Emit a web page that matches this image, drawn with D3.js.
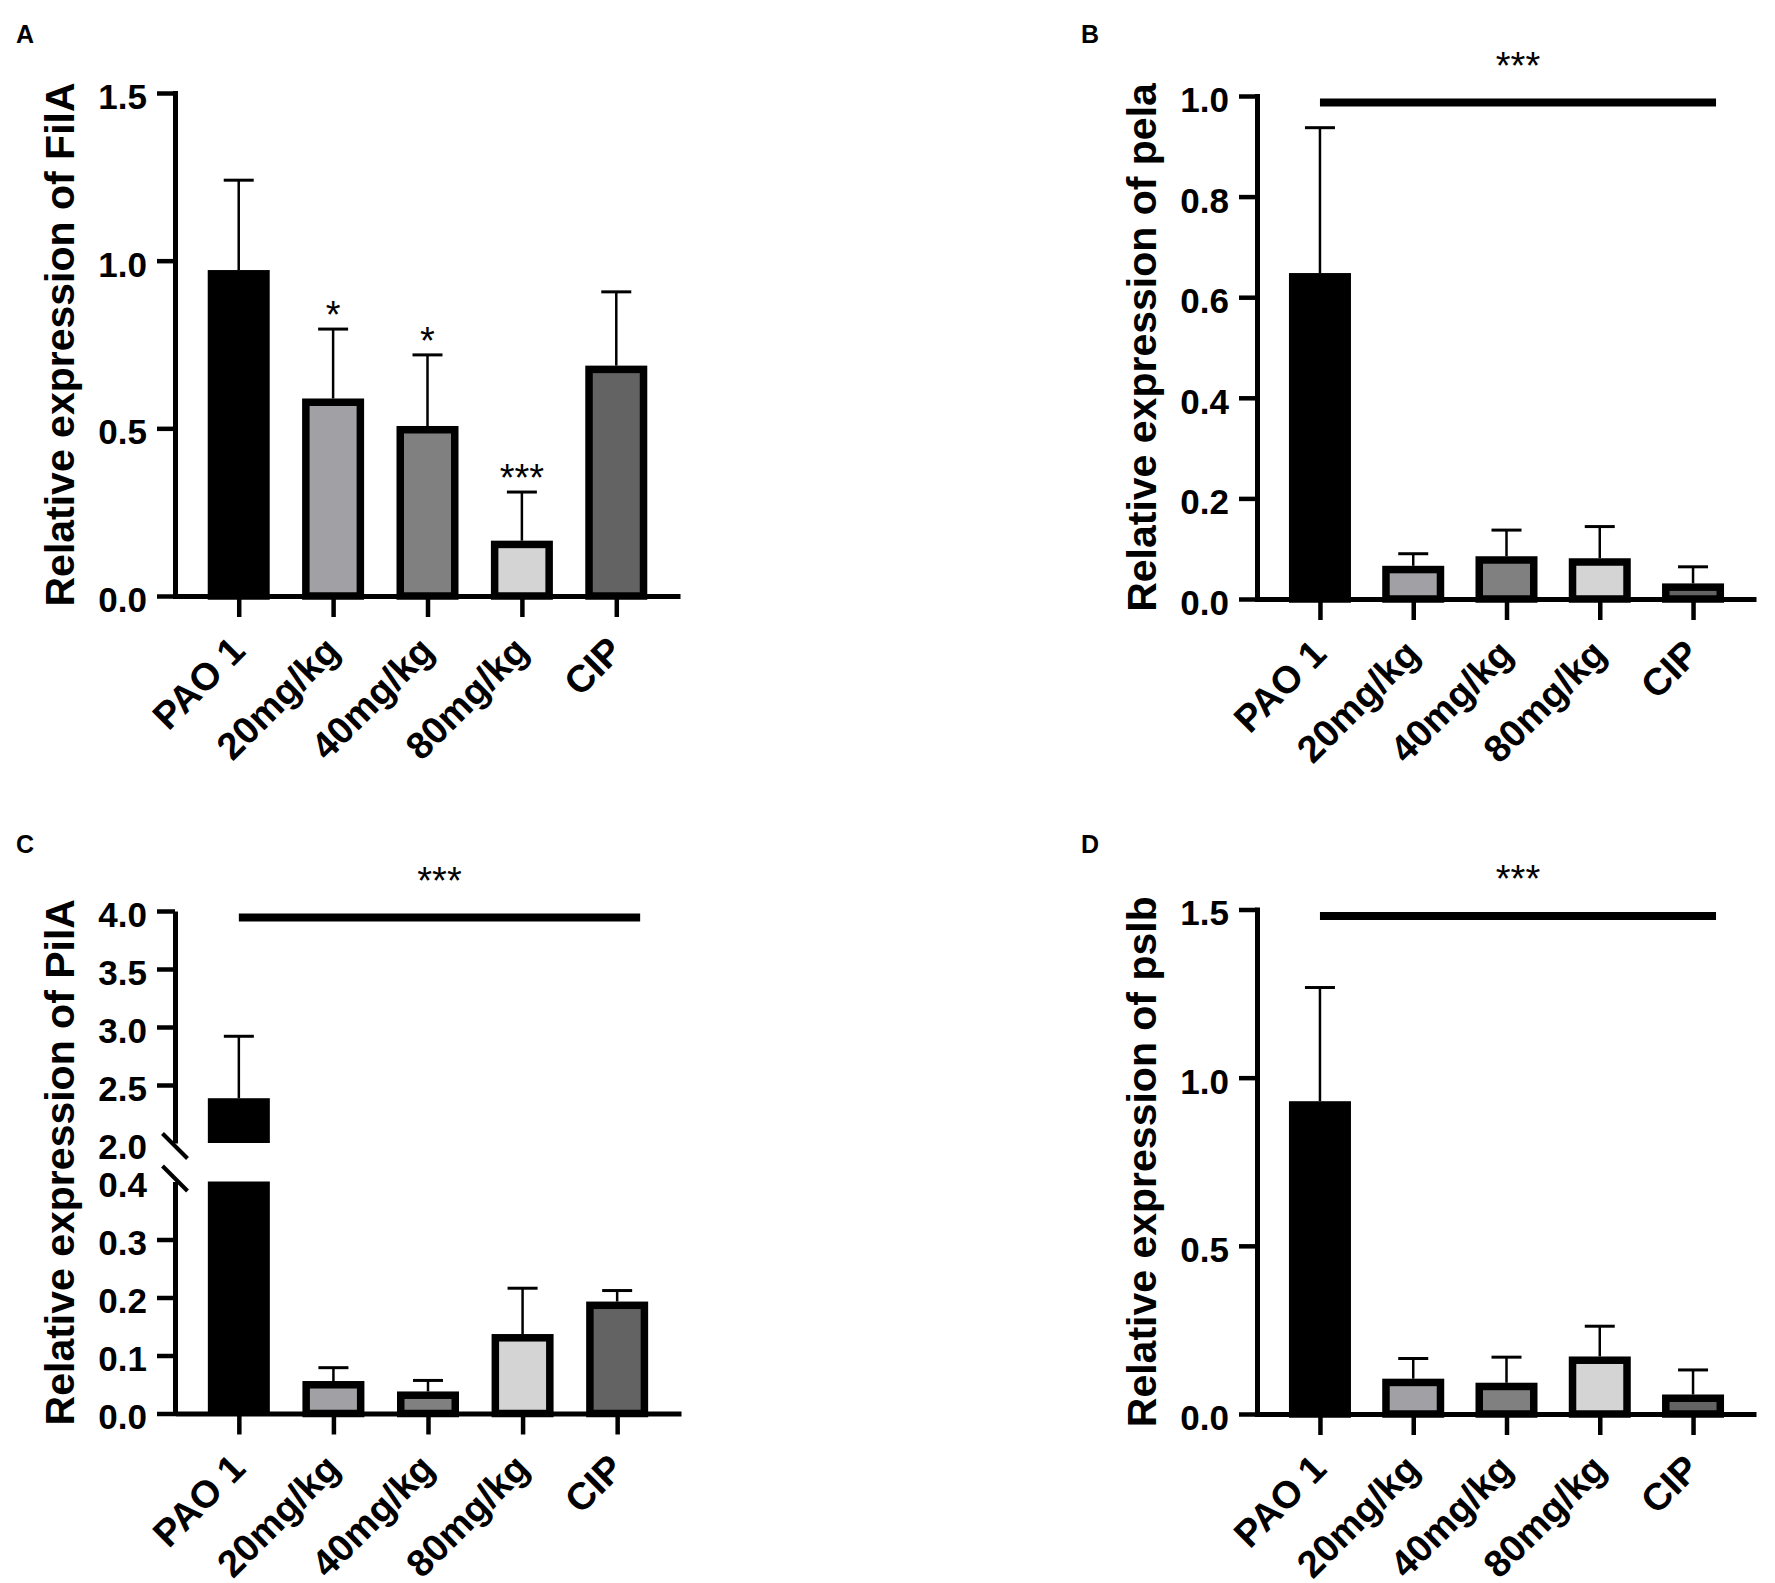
<!DOCTYPE html>
<html>
<head>
<meta charset="utf-8">
<script src="https://cdnjs.cloudflare.com/ajax/libs/d3/7.8.5/d3.min.js"></script>
<style>
  body { margin: 0; background: #fff; }
  text { font-family: "Liberation Sans", Arial, sans-serif; }
</style>
</head>
<body>
<script>
// ---- data ----
var groups = ["PAO 1", "20mg/kg", "40mg/kg", "80mg/kg", "CIP"];
var barFills = ["#000000", "#a1a1a5", "#808080", "#d4d4d4", "#636363"];

// A: FilA
var filaMean = [0.972, 0.589, 0.507, 0.165, 0.687];
var filaSd = [0.268, 0.207, 0.212, 0.145, 0.220];
var filaStars = ["", "*", "*", "***", ""];
var filaTicks = [0, 0.5, 1.0, 1.5];

// B: pela
var pelaMean = [0.648, 0.066, 0.085, 0.081, 0.031];
var pelaSd = [0.289, 0.024, 0.052, 0.063, 0.033];
var pelaTicks = [0, 0.2, 0.4, 0.6, 0.8, 1.0];

// C: PilA (broken axis)
var pilaMean = [2.386, 0.056, 0.038, 0.137, 0.193];
var pilaSd = [0.534, 0.023, 0.019, 0.079, 0.019];
var pilaLowTicks = [0, 0.1, 0.2, 0.3, 0.4];
var pilaHighTicks = [2.0, 2.5, 3.0, 3.5, 4.0];

// D: pslb
var pslbMean = [0.930, 0.105, 0.093, 0.171, 0.058];
var pslbSd = [0.338, 0.060, 0.076, 0.090, 0.073];
var pslbTicks = [0, 0.5, 1.0, 1.5];

// ---- layout ----
var W = 1775, H = 1583;
var barW = 62, sw = 7.5, capW = 30;
var font = "'Liberation Sans', Arial, sans-serif";

var svg = d3.select("body").append("svg")
    .attr("width", W)
    .attr("height", H)
    .style("background", "#fff");

var panels = [
  {letter: "A", title: "Relative expression of FilA", left: 175, right: 680, top: 93, bottom: 596,
   mean: filaMean, sd: filaSd, ticks: filaTicks, stars: filaStars, sig: false},
  {letter: "B", title: "Relative expression of pela", left: 1257, right: 1756, top: 96, bottom: 599,
   mean: pelaMean, sd: pelaSd, ticks: pelaTicks, sig: true},
  {letter: "C", title: "Relative expression of PilA", left: 175, right: 681, top: 911, bottom: 1413.5,
   mean: pilaMean, sd: pilaSd, lowTicks: pilaLowTicks, highTicks: pilaHighTicks,
   lowTop: 1181.5, highBottom: 1143, sig: true},
  {letter: "D", title: "Relative expression of pslb", left: 1257, right: 1756, top: 909.5, bottom: 1414,
   mean: pslbMean, sd: pslbSd, ticks: pslbTicks, sig: true}
];

function styleYAxis(ax) {
  ax.select(".domain").attr("stroke-width", 5).attr("stroke-linecap", "square");
  ax.selectAll(".tick line").attr("stroke-width", 4.5);
  ax.selectAll(".tick text")
    .attr("dy", "0.44em")
    .style("font-family", font)
    .style("font-size", "35px")
    .style("font-weight", "bold")
    .attr("fill", "#000");
}

panels.forEach(function(p) {
  var g = svg.append("g");

  var x = d3.scalePoint().domain(groups).range([p.left, p.right]).padding(0.675);

  var y, yLow, yHigh;
  if (p.lowTicks) {
    yLow = d3.scaleLinear().domain([0, 0.4]).range([p.bottom, p.lowTop]);
    yHigh = d3.scaleLinear().domain([2.0, 4.0]).range([p.highBottom, p.top]);
    y = function(v) { return v <= 0.4 ? yLow(v) : yHigh(v); };
  } else {
    y = d3.scaleLinear().domain([0, d3.max(p.ticks)]).range([p.bottom, p.top]);
  }

  var rows = groups.map(function(d, i) {
    return {group: d, mean: p.mean[i], sd: p.sd[i], fill: barFills[i], star: p.stars ? p.stars[i] : ""};
  });

  // bars
  rows.forEach(function(d) {
    var x0 = x(d.group) - barW / 2;
    if (p.lowTicks && d.mean > 0.4) {
      // broken bar: lower piece up to the break, upper piece from 2.0
      g.append("rect")
        .attr("x", x0).attr("width", barW)
        .attr("y", yLow(0.4)).attr("height", p.bottom - yLow(0.4))
        .attr("fill", d.fill);
      g.append("rect")
        .attr("x", x0).attr("width", barW)
        .attr("y", yHigh(d.mean)).attr("height", yHigh(2.0) - yHigh(d.mean))
        .attr("fill", d.fill);
    } else {
      g.append("rect")
        .attr("x", x0 + sw / 2).attr("width", barW - sw)
        .attr("y", y(d.mean) + sw / 2)
        .attr("height", Math.max(0, p.bottom - y(d.mean) - sw / 2))
        .attr("fill", d.fill)
        .attr("stroke", "#000")
        .attr("stroke-width", sw);
    }
  });

  // error bars (upper only)
  rows.forEach(function(d) {
    var top = y(d.mean + d.sd);
    g.append("line")
      .attr("x1", x(d.group)).attr("x2", x(d.group))
      .attr("y1", y(d.mean)).attr("y2", top)
      .attr("stroke", "#000").attr("stroke-width", 2.5);
    g.append("line")
      .attr("x1", x(d.group) - capW / 2).attr("x2", x(d.group) + capW / 2)
      .attr("y1", top).attr("y2", top)
      .attr("stroke", "#000").attr("stroke-width", 3);
    if (d.star) {
      g.append("text")
        .attr("x", x(d.group)).attr("y", top - 1)
        .attr("text-anchor", "middle")
        .style("font-family", font).style("font-size", "38px")
        .text(d.star);
    }
  });

  // y axis
  if (p.lowTicks) {
    var axLow = g.append("g").attr("transform", "translate(" + p.left + ",0)")
      .call(d3.axisLeft(yLow).tickValues(p.lowTicks).tickSize(18).tickSizeOuter(0)
        .tickPadding(10).tickFormat(d3.format(".1f")));
    styleYAxis(axLow);
    axLow.select(".domain").attr("stroke-linecap", "butt");
    axLow.selectAll(".tick").filter(function(d) { return d === 0.4; }).select("line").remove();

    var axHigh = g.append("g").attr("transform", "translate(" + p.left + ",0)")
      .call(d3.axisLeft(yHigh).tickValues(p.highTicks).tickSize(18).tickSizeOuter(0)
        .tickPadding(10).tickFormat(d3.format(".1f")));
    styleYAxis(axHigh);
    axHigh.select(".domain").attr("stroke-linecap", "butt");
    axHigh.selectAll(".tick").filter(function(d) { return d === 2.0; }).select("line").remove();

    // break marks
    [yHigh(2.0) + 3, yLow(0.4) - 3].forEach(function(yc) {
      g.append("line")
        .attr("x1", p.left - 12.5).attr("y1", yc - 12.5)
        .attr("x2", p.left + 12.5).attr("y2", yc + 12.5)
        .attr("stroke", "#000").attr("stroke-width", 4);
    });
    g.append("line")
      .attr("x1", p.left).attr("x2", p.left)
      .attr("y1", p.bottom).attr("y2", p.bottom + 2.5)
      .attr("stroke", "#000").attr("stroke-width", 5);
  } else {
    var ay = g.append("g").attr("transform", "translate(" + p.left + ",0)")
      .call(d3.axisLeft(y).tickValues(p.ticks).tickSize(18).tickSizeOuter(0)
        .tickPadding(10).tickFormat(d3.format(".1f")));
    styleYAxis(ay);
  }

  // x axis
  var ax = g.append("g").attr("transform", "translate(0," + p.bottom + ")")
    .call(d3.axisBottom(x).tickSize(21).tickSizeOuter(0));
  ax.select(".domain").attr("stroke-width", 5);
  ax.selectAll(".tick line").attr("stroke-width", 4.5);
  ax.selectAll(".tick text")
    .attr("y", 0).attr("dy", 0)
    .attr("transform", "translate(8,57) rotate(-45)")
    .attr("text-anchor", "end")
    .style("font-family", font)
    .style("font-size", "38px")
    .style("font-weight", "bold")
    .attr("fill", "#000");

  // y title
  g.append("text")
    .attr("transform", "translate(" + (p.left - 101) + "," + ((p.top + p.bottom) / 2) + ") rotate(-90)")
    .attr("text-anchor", "middle")
    .style("font-family", font).style("font-size", "41px").style("font-weight", "bold")
    .text(p.title);

  // panel letter
  g.append("text")
    .attr("x", p.left < 500 ? 16 : 1081)
    .attr("y", p.top < 500 ? 43 : 853)
    .style("font-family", font).style("font-size", "25px").style("font-weight", "bold")
    .text(p.letter);

  // significance line across all groups
  if (p.sig) {
    var sy = p.top + 6.5;
    var sx1 = x(groups[0]), sx2 = x(groups[groups.length - 1]) + 23;
    g.append("line")
      .attr("x1", sx1).attr("x2", sx2)
      .attr("y1", sy).attr("y2", sy)
      .attr("stroke", "#000").attr("stroke-width", 8);
    g.append("text")
      .attr("x", (sx1 + sx2) / 2).attr("y", sy - 24)
      .attr("text-anchor", "middle")
      .style("font-family", font).style("font-size", "38px")
      .text("***");
  }
});
</script>
</body>
</html>
